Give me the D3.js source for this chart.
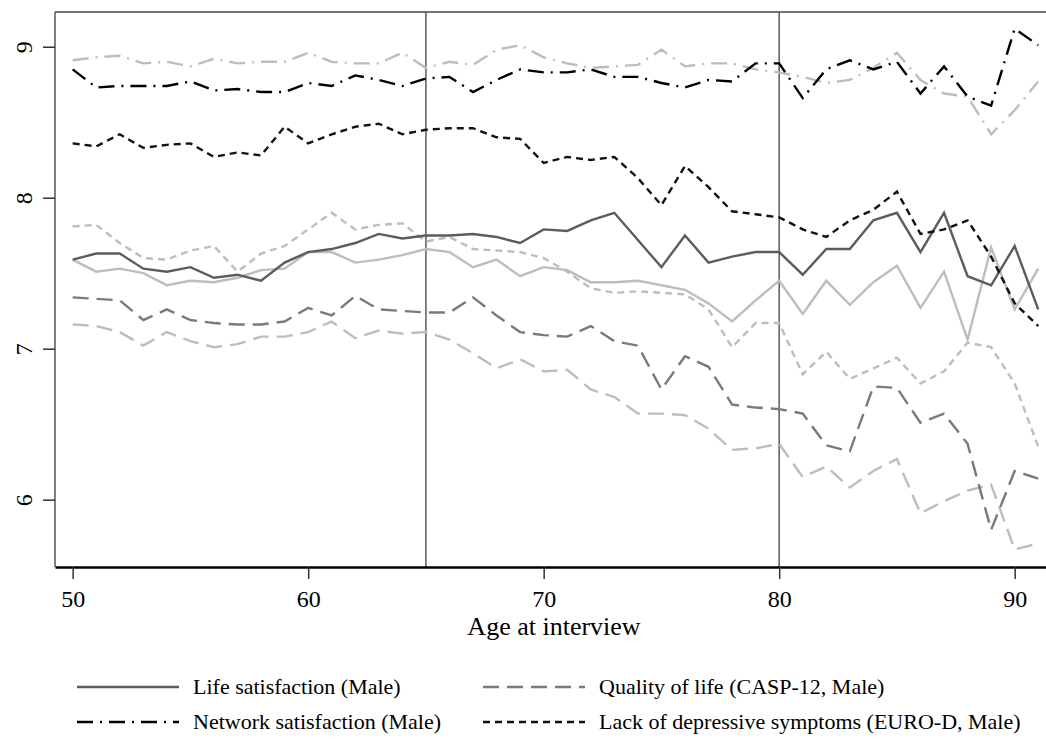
<!DOCTYPE html>
<html><head><meta charset="utf-8">
<script src="https://cdn.jsdelivr.net/npm/d3@7"></script>
<style>body{margin:0;background:#fff}svg{display:block;font-family:"Liberation Serif","Times New Roman",serif}</style>
</head><body><svg id="c" width="1046" height="741"></svg>
<script>
const ages = d3.range(50, 92);
const xTicks = [50, 60, 70, 80, 90];
const yTicks = [6, 7, 8, 9];
const refAges = [65, 80];

const lifeMale = [7.59,7.63,7.63,7.53,7.51,7.54,7.47,7.49,7.45,7.57,7.64,7.66,7.70,7.76,7.73,7.75,
  7.75,7.76,7.74,7.70,7.79,7.78,7.85,7.90,7.72,7.54,7.75,7.57,7.61,7.64,7.64,
  7.49,7.66,7.66,7.85,7.90,7.64,7.90,7.48,7.42,7.68,7.26];
const lifeFemale = [7.59,7.51,7.53,7.50,7.42,7.45,7.44,7.47,7.52,7.53,7.64,7.64,7.57,7.59,7.62,7.66,
  7.64,7.54,7.59,7.48,7.54,7.52,7.44,7.44,7.45,7.42,7.39,7.30,7.18,7.32,7.45,
  7.23,7.45,7.29,7.44,7.55,7.27,7.51,7.06,7.67,7.26,7.53];
const qualMale = [7.34,7.33,7.32,7.19,7.26,7.19,7.17,7.16,7.16,7.18,7.27,7.22,7.35,7.26,7.25,7.24,
  7.24,7.34,7.22,7.11,7.09,7.08,7.15,7.05,7.02,6.73,6.95,6.88,6.63,6.61,6.60,
  6.57,6.36,6.32,6.75,6.74,6.51,6.57,6.37,5.80,6.19,6.14];
const qualFemale = [7.16,7.15,7.11,7.02,7.11,7.05,7.01,7.03,7.08,7.08,7.11,7.18,7.07,7.12,7.10,7.11,
  7.06,6.97,6.87,6.93,6.85,6.86,6.73,6.68,6.57,6.57,6.56,6.47,6.33,6.34,6.37,
  6.15,6.22,6.08,6.19,6.27,5.91,5.99,6.06,6.10,5.67,5.71];
const netMale = [8.85,8.73,8.74,8.74,8.74,8.77,8.71,8.72,8.70,8.70,8.76,8.74,8.81,8.78,8.74,8.79,
  8.80,8.70,8.78,8.85,8.83,8.83,8.85,8.80,8.80,8.76,8.73,8.78,8.77,8.89,8.89,
  8.66,8.85,8.91,8.85,8.90,8.69,8.87,8.67,8.61,9.12,9.01];
const netFemale = [8.91,8.93,8.94,8.89,8.90,8.87,8.92,8.89,8.90,8.90,8.96,8.90,8.89,8.89,8.96,8.86,
  8.90,8.88,8.98,9.01,8.93,8.89,8.86,8.87,8.88,8.98,8.87,8.89,8.89,8.85,8.83,
  8.80,8.76,8.78,8.86,8.96,8.78,8.69,8.67,8.42,8.58,8.77];
const depMale = [8.36,8.34,8.42,8.33,8.35,8.36,8.27,8.30,8.28,8.47,8.36,8.42,8.47,8.49,8.42,8.45,
  8.46,8.46,8.40,8.39,8.23,8.27,8.25,8.27,8.13,7.95,8.21,8.07,7.91,7.89,7.87,
  7.79,7.74,7.85,7.92,8.04,7.76,7.79,7.85,7.61,7.30,7.15];
const depFemale = [7.81,7.82,7.70,7.60,7.59,7.65,7.68,7.51,7.63,7.68,7.79,7.90,7.79,7.82,7.83,7.71,
  7.74,7.66,7.65,7.64,7.60,7.51,7.40,7.37,7.38,7.37,7.36,7.26,7.01,7.17,7.17,
  6.83,6.98,6.80,6.87,6.94,6.77,6.85,7.04,7.01,6.77,6.35];

const legendLabels = ["Life satisfaction (Male)", "Quality of life (CASP-12, Male)",
  "Network satisfaction (Male)", "Lack of depressive symptoms (EURO-D, Male)"];

const LIGHT = "#bdbdbd";
const DASH = {solid: null, long: "16,8", dashdot: "16,7,2,7", short: "7,5"};
const series = [
  {v: qualFemale, c: LIGHT, d: DASH.long},
  {v: lifeFemale, c: LIGHT, d: DASH.solid},
  {v: depFemale, c: LIGHT, d: DASH.short},
  {v: netFemale, c: LIGHT, d: DASH.dashdot},
  {v: qualMale, c: "#7a7a7a", d: DASH.long, leg: 1},
  {v: lifeMale, c: "#5c5c5c", d: DASH.solid, leg: 0},
  {v: depMale, c: "#111", d: DASH.short, leg: 3},
  {v: netMale, c: "#000", d: DASH.dashdot, leg: 2}
];

const svg = d3.select("#c");
const L = 55, R = 1046, T = 12, B = 567;
const x = d3.scaleLinear().domain([49.25, 91.33]).range([L, R]);
const y = d3.scaleLinear().domain([5.554, 9.23]).range([B, T]);

// frame
svg.append("line").attr("x1", L).attr("x2", R).attr("y1", T).attr("y2", T).attr("stroke", "#444").attr("stroke-width", 1.5);
svg.append("line").attr("x1", L).attr("x2", L).attr("y1", T).attr("y2", B).attr("stroke", "#555").attr("stroke-width", 1.5);

// reference lines
svg.selectAll(".ref").data(refAges).enter().append("line")
  .attr("x1", d => x(d)).attr("x2", d => x(d)).attr("y1", T).attr("y2", B)
  .attr("stroke", "#5a5a5a").attr("stroke-width", 1.5);

// series lines
const line = d3.line().x((d, i) => x(ages[i])).y(d => y(d));
svg.selectAll(".s").data(series).enter().append("path")
  .attr("d", d => line(d.v)).attr("fill", "none")
  .attr("stroke", d => d.c).attr("stroke-width", 2.4)
  .attr("stroke-dasharray", d => d.d);

// x axis
const gx = svg.append("g").attr("transform", `translate(0,${B})`)
  .call(d3.axisBottom(x).tickValues(xTicks).tickFormat(d3.format("d")).tickSize(12).tickPadding(11).tickSizeOuter(0));
gx.select(".domain").attr("stroke", "#000").attr("stroke-width", 2.5);
gx.selectAll(".tick line").attr("stroke", "#333").attr("stroke-width", 1.5);
gx.selectAll("text").attr("font-size", 24).attr("fill", "#000").attr("font-family", "Liberation Serif");

// y axis
const gy = svg.append("g").attr("transform", `translate(${L},0)`)
  .call(d3.axisLeft(y).tickValues(yTicks).tickFormat(d3.format("d")).tickSize(12).tickSizeOuter(0));
gy.select(".domain").remove();
gy.selectAll(".tick line").attr("stroke", "#333").attr("stroke-width", 1.5);
gy.selectAll("text").attr("font-size", 24).attr("fill", "#000").attr("font-family", "Liberation Serif")
  .attr("transform", "rotate(-90)").attr("x", 0).attr("y", -23).attr("dy", 0)
  .attr("text-anchor", "middle");

// axis title
svg.append("text").attr("x", 554).attr("y", 635).attr("text-anchor", "middle")
  .attr("font-size", 26).attr("fill", "#000").text("Age at interview");

// legend
const legPos = [[77, 687], [483, 687], [77, 722], [483, 722]];
const legItems = series.filter(s => s.leg !== undefined);
legItems.forEach(s => {
  const [lx, ly] = legPos[s.leg];
  svg.append("line").attr("x1", lx).attr("x2", lx + 102).attr("y1", ly).attr("y2", ly)
    .attr("stroke", s.c).attr("stroke-width", 2.4).attr("stroke-dasharray", s.d);
  svg.append("text").attr("x", lx + 116).attr("y", ly + 7).attr("font-size", 22).attr("fill", "#000")
    .text(legendLabels[s.leg]);
});
</script></body></html>
